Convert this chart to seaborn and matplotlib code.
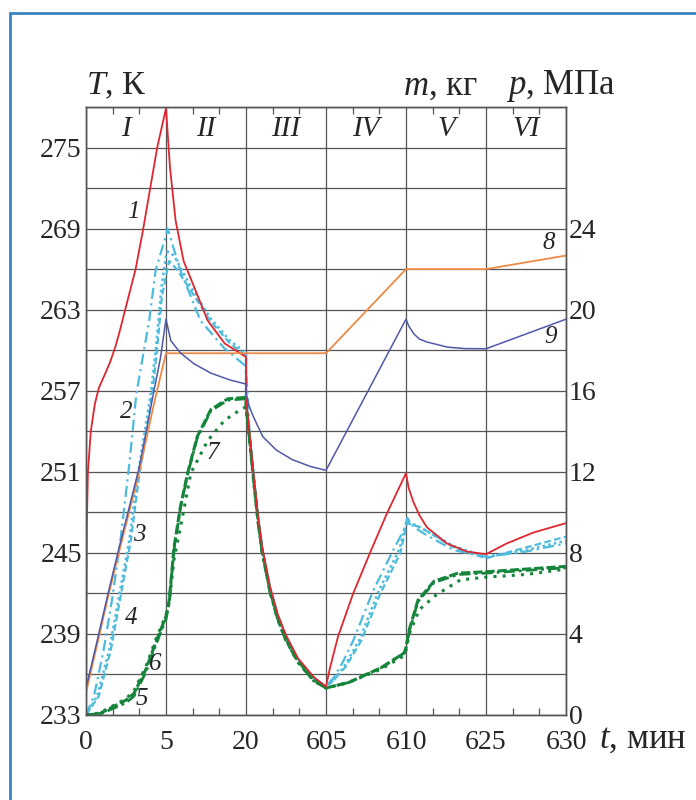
import numpy as np
import matplotlib
matplotlib.use("Agg")
import matplotlib.pyplot as plt
import seaborn as sns
from matplotlib.lines import Line2D

# time breakpoints of the six stages (each stage gets equal width on the axis)
t_breaks = [0, 5, 20, 605, 610, 625, 630]
t_labels = ['0', '5', '20', '605', '610', '625', '630']
stage_names = ['I', 'II', 'III', 'IV', 'V', 'VI']
stage_mid_t = [2.5, 12.5, 312.5, 607.5, 617.5, 627.5]

# shared points of the cooling stage III (curves lie on top of each other there)
t_cool = [20, 49, 78.5, 108, 137, 195.5, 254, 312.5, 400, 517, 605]

# 1 - red
red_t = [0, 0.02, 0.05, 0.12, 0.3, 0.55, 0.8, 1.1, 1.5, 1.85, 2.15, 2.45, 3.1, 3.55, 4.0, 4.45, 5,
         5.75, 6.8, 8.3, 10.25, 12.8, 16, 20] + t_cool + \
        [605.25, 605.75, 606.7, 607.75, 608.8, 610,
         610.5, 611.35, 612.5, 613.9, 617.65, 621.4, 625,
         626.3, 627.95, 630]
red_T = [233, 240, 247, 251, 254, 256, 257.2, 258, 259.1, 260.3, 261.6, 263, 266, 268.8, 271.9, 275, 277.9,
         273.5, 269.6, 266.6, 264.7, 262.2, 260.5, 259.5,
         256.5, 253.5, 250.5, 247.7, 245.5, 242.5, 240.4, 238.9, 237.2, 235.8, 235.1,
         236.5, 238.8, 242, 245, 247.9, 250.9,
         249.8, 248.8, 247.8, 246.9, 245.7, 245.1, 244.9,
         245.7, 246.5, 247.2]

# 2 - cyan dash-dot
c2_t = [0, 0.5, 1.1, 1.65, 2.15, 2.7, 3.15, 3.95, 4.35, 5, 5.3,
        7.7, 11.45, 15.8] + t_cool + \
       [605.5, 606, 606.7, 607.95, 609.2, 610, 610.2,
        611.5, 613.9, 619, 625,
        627.5, 630]
c2_T = [233, 234.4, 237.8, 241.7, 245.9, 251.5, 256.8, 262.2, 265.9, 268.5, 269,
        265.9, 262.2, 260.2,
        258.8, 253.4, 250.4, 247.6, 245.4, 242.4, 240.3, 238.8, 237.1, 235.7, 235.1,
        235.8, 236.8, 238.5, 242.2, 245.2, 247.0, 247.6,
        246.9, 246.3, 245.2, 244.7,
        245.1, 245.7]

# 3 - cyan dashed
c3_t = [0, 0.8, 1.55, 2.15, 2.8, 3.3, 4.15, 4.45, 4.75, 5, 5.6,
        7, 9.5, 13.25, 17, 20] + t_cool + \
       [605.5, 606.25, 607.2, 608.4, 609.65, 610.15,
        612.7, 619, 625,
        627.5, 630]
c3_T = [233, 234.4, 237.8, 241.7, 245.9, 250.5, 256.8, 260.2, 264.0, 265.5, 266.6,
        266, 264.5, 262.2, 260.5, 259.6,
        256.4, 253.4, 250.4, 247.6, 245.4, 242.4, 240.3, 238.8, 237.1, 235.7, 235.1,
        235.6, 236.6, 238.5, 242, 245, 247.2,
        246.9, 245.4, 244.6,
        245.4, 246.2]

# 4 - cyan dotted
c4_t = [0, 0.7, 1.45, 2.05, 2.7, 3.2, 4.05, 4.4, 4.7, 5, 5.3,
        6.5, 9.5, 13.25, 17, 20] + t_cool + \
       [605.5, 606.2, 607.1, 608.3, 609.6, 610.1,
        612.5, 619, 625,
        627.5, 630]
c4_T = [233, 234.4, 237.8, 241.7, 245.9, 250.5, 256.8, 260.5, 264.5, 267, 267.3,
        267.0, 264.8, 262.4, 260.7, 259.8,
        256.5, 253.4, 250.4, 247.6, 245.4, 242.4, 240.3, 238.8, 237.1, 235.7, 235.1,
        235.6, 236.7, 238.6, 242.2, 245.3, 247.4,
        246.9, 245.5, 244.7,
        245.2, 245.9]

# 5 - green dash-dot
g5_t = [0, 0.85, 2.5, 3.0, 3.75, 4.4, 5, 5.6, 6.5, 7.7, 9.05, 10.85, 13.4, 16.55, 19.7, 20] + t_cool + \
       [606.4, 608.45, 609.9, 610,
        610.6, 612.25, 615.25, 619.75, 625,
        627.5, 630]
g5_T = [233, 233.05, 233.9, 234.4, 236.2, 238.3, 240.1, 241.3, 245.2, 248.3, 250.8, 253.5, 255.5, 256.3, 256.4, 256.3,
        255.9, 253.1, 250.1, 247.3, 245.1, 242.1, 240.0, 238.5, 236.9, 235.5, 235.0,
        235.4, 236.5, 237.6, 238.0,
        239.2, 241.4, 242.8, 243.4, 243.5,
        243.7, 243.9]

# 6 - green dashed
g6_t = [0, 0.85, 2.5, 3.0, 3.75, 4.4, 5, 5.6, 6.5, 7.7, 9.05, 10.85, 13.4, 16.55, 19.7, 20] + t_cool + \
       [606.4, 608.45, 609.9, 610,
        610.6, 612.25, 615.25, 619.75, 625,
        627.5, 630]
g6_T = [233, 233.1, 234.1, 234.6, 236.4, 238.5, 240.3, 241.5, 245.4, 248.4, 250.9, 253.6, 255.6, 256.4, 256.5, 256.4,
        256.0, 253.2, 250.2, 247.4, 245.2, 242.2, 240.1, 238.6, 237.0, 235.6, 235.0,
        235.4, 236.5, 237.6, 238.0,
        239.3, 241.5, 242.9, 243.5, 243.6,
        243.8, 244.0]

# 7 - green dotted
g7_t = [0, 0.85, 2.5, 3.0, 3.75, 4.4, 5, 5.6, 6.5, 8.45, 9.65, 12.8, 15.95, 18.95, 20] + t_cool + \
       [606.4, 608.45, 609.9, 610,
        610.6, 612.5, 615.7, 620.2, 625,
        627.5, 630]
g7_T = [233, 233.15, 234.2, 234.8, 236.6, 238.7, 240.4, 241.3, 244.5, 248.4, 250.9, 253.3, 254.8, 255.6, 255.8,
        255.6, 253.0, 250.0, 247.3, 245.1, 242.1, 240.0, 238.5, 236.9, 235.5, 235.0,
        235.4, 236.4, 237.4, 237.8,
        239.0, 240.8, 241.9, 243.0, 243.2,
        243.4, 243.8]

# 8 - mass, kg (right axis)
m_t = [0, 0.7, 1.4, 2.05, 3.3, 4.15, 4.65, 5, 20, 605, 610, 625, 630]
m_kg = [1.1, 3.5, 5.9, 8.0, 11.9, 15.0, 16.7, 17.85, 17.85, 17.85, 22.0, 22.0, 22.67]

# 9 - pressure, MPa (right axis)
p_t = [0, 0.7, 1.4, 2.05, 3.3, 3.7, 4.15, 4.65, 5,
       5.9, 7.7, 10.25, 13.4, 17, 20,
       20, 40, 73, 143, 242, 359, 488, 605,
       610, 610.5, 611.5, 612.5, 614, 617.8, 621, 625, 630]
p_mpa = [1.33, 3.67, 6.07, 8.2, 12.13, 13.73, 15.6, 17.6, 19.53,
         18.47, 17.87, 17.33, 16.87, 16.53, 16.33,
         15.9, 15.3, 14.73, 13.73, 13.07, 12.6, 12.27, 12.07,
         19.53, 19.2, 18.8, 18.55, 18.4, 18.15, 18.08, 18.07, 19.53]

# curve number labels: (text, t, value)
left_labels = [('1', 2.95, 270.2), ('2', 2.5, 255.4), ('3', 3.35, 246.3), ('4', 2.85, 240.2),
               ('5', 3.5, 234.2), ('6', 4.3, 236.8), ('7', 13.85, 252.4)]
right_labels = [('8', 628.95, 23.3), ('9', 629.05, 18.67)]

sns.set_style("white")
plt.rcParams['font.family'] = ['Liberation Serif', 'DejaVu Serif']
plt.rcParams['mathtext.fontset'] = 'custom'
plt.rcParams['mathtext.it'] = 'Liberation Serif:italic'
plt.rcParams['mathtext.rm'] = 'Liberation Serif'

RED = '#e0262f'
CYAN = '#4dbbdc'
GREEN = '#16853c'
BLUE = '#4f58a8'
ORANGE = '#ec8a45'
GRID = '#555555'

fig = plt.figure(figsize=(6.96, 8), dpi=100)
ax = fig.add_axes([86 / 696, 85 / 800, 480 / 696, 608 / 800])

seg_pos = np.arange(len(t_breaks))


def fwd(t):
    return np.interp(t, t_breaks, seg_pos)


def inv(p):
    return np.interp(p, seg_pos, t_breaks)


ax.set_xscale('function', functions=(fwd, inv))
ax.set_xlim(0, 630)
ax.set_ylim(233, 278)

common = dict(ax=ax, estimator=None, sort=False, legend=False)
sns.lineplot(x=c2_t, y=c2_T, color=CYAN, lw=1.6, linestyle=(0, (5, 2, 1, 2)), **common)
sns.lineplot(x=c3_t, y=c3_T, color=CYAN, lw=1.6, linestyle=(0, (3, 1.5)), **common)
sns.lineplot(x=c4_t, y=c4_T, color=CYAN, lw=1.8, linestyle=(0, (1, 1.3)), **common)
sns.lineplot(x=g5_t, y=g5_T, color=GREEN, lw=2.0, linestyle=(0, (4, 1.5, 1, 1.5)), **common)
sns.lineplot(x=g6_t, y=g6_T, color=GREEN, lw=2.2, linestyle=(0, (3, 1)), **common)
sns.lineplot(x=g7_t, y=g7_T, color=GREEN, lw=2.2, linestyle=(0, (1, 2)), **common)
sns.lineplot(x=red_t, y=red_T, color=RED, lw=1.3, **common)

# grid and ticks
ax.set_xticks(t_breaks, t_labels)
ax.set_xticks([5 / 3, 10 / 3, 10, 15, 215, 410, 606.67, 608.33, 615, 620, 626.67, 628.33], minor=True)
yt = list(range(233, 279, 3))
ax.set_yticks(yt, [str(v) if (v - 233) % 6 == 0 and v < 278 else '' for v in yt])
ax.grid(True, which='major', color=GRID, lw=0.9)
ax.tick_params(axis='x', which='major', length=0, pad=11, labelsize=20)
ax.tick_params(axis='x', which='minor', direction='in', length=5, width=0.9,
               top=True, bottom=True, color=GRID)
ax.tick_params(axis='y', length=0, pad=3, labelsize=20)
ax.set_xlabel('')
ax.set_ylabel('')
for s in ax.spines.values():
    s.set_color(GRID)
    s.set_linewidth(1)

for name, tm in zip(stage_names, stage_mid_t):
    ax.text(tm, 276.4, name, style='italic', fontsize=21, ha='center', va='center')
for txt, tx, ty in left_labels:
    ax.text(tx, ty, txt, style='italic', fontsize=18, ha='center', va='center')

# right axis: mass and pressure
ax2 = ax.twinx()
ax2.set_ylim(0, 30)
sns.lineplot(x=m_t, y=m_kg, ax=ax2, color=ORANGE, lw=1.3, estimator=None, sort=False, legend=False)
sns.lineplot(x=p_t, y=p_mpa, ax=ax2, color=BLUE, lw=1.1, estimator=None, sort=False, legend=False)
ax2.set_yticks([0, 4, 8, 12, 16, 20, 24])
ax2.tick_params(axis='y', length=0, pad=2, labelsize=20)
ax2.set_ylabel('')
ax2.set_xlabel('')
ax2.set_xlim(0, 630)
for s in ax2.spines.values():
    s.set_color(GRID)
    s.set_linewidth(1)
for txt, tx, ty in right_labels:
    ax2.text(tx, ty, txt, style='italic', fontsize=18, ha='center', va='center')

# axis titles
fig.text(86 / 696, 1 - 86 / 800, '$T$, К', fontsize=24.5, ha='left', va='center')
fig.text(403 / 696, 1 - 86 / 800, '$m$, кг', fontsize=25, ha='left', va='center')
fig.text(506 / 696, 1 - 86 / 800, '$p$, МПа', fontsize=25, ha='left', va='center')
fig.text(599 / 696, 1 - 739 / 800, '$t$, мин', fontsize=25, ha='left', va='center')

# blue frame (left and top edges)
fig.add_artist(Line2D([10 / 696, 10 / 696], [0, 1 - 13 / 800], color='#3584c4', lw=2))
fig.add_artist(Line2D([10 / 696, 1], [1 - 13 / 800, 1 - 13 / 800], color='#3584c4', lw=2))

fig.savefig('out.png', dpi=100)
